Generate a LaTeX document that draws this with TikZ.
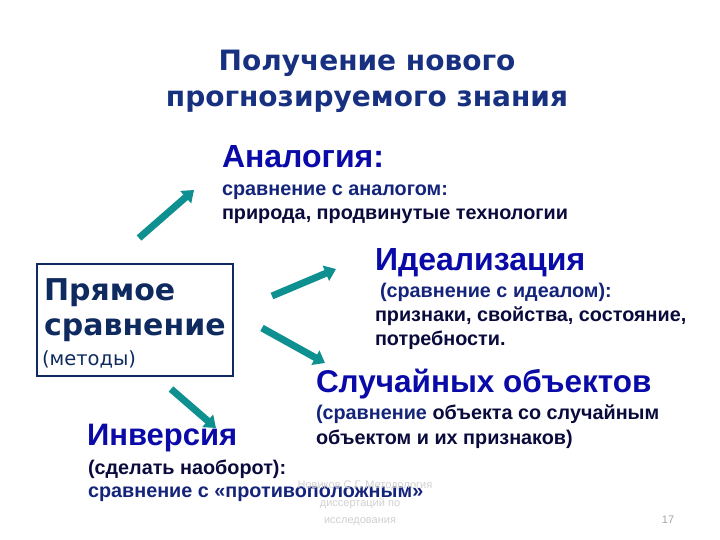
\documentclass[tikz,border=0pt]{standalone}
\usepackage{fontspec}
\setmainfont{Liberation Sans}
\newfontfamily\vfont{DejaVu Sans}
\usetikzlibrary{arrows.meta}
\definecolor{titlec}{HTML}{17307F}
\definecolor{headc}{HTML}{0A0AA8}
\definecolor{subc}{HTML}{14247A}
\definecolor{darkc}{HTML}{0A0A3C}
\definecolor{boxc}{HTML}{0F2A5F}
\definecolor{teal}{HTML}{0E9090}
\tikzset{
  txt/.style={anchor=base west, inner sep=0pt, outer sep=0pt},
  head/.style={txt, text=headc, font=\fontsize{32}{36}\selectfont\bfseries},
  sub/.style={txt, text=darkc, font=\fontsize{19.8}{23}\selectfont\bfseries},
  arr/.style={draw=teal, line width=7pt, -{Triangle[length=11pt,width=16pt]}},
  wm/.style={anchor=base, inner sep=0pt, text=black!18, font=\fontsize{11}{13}\selectfont},
  ttl/.style={anchor=base, inner sep=0pt, text=titlec, font=\fontsize{28}{32}\selectfont\vfont\bfseries},
}
\begin{document}
\begin{tikzpicture}[x=1pt,y=-1pt]
\useasboundingbox (0,0) rectangle (720,540);
\fill[white] (0,0) rectangle (720,540);
% title
\node[ttl] (t1) at (367,71) {Получение нового};
\node[ttl] (t2) at (367,107) {прогнозируемого знания};
% box
\draw[boxc, line width=2pt] (37,264) rectangle (233,376);
\node[txt, text=boxc, font=\fontsize{30}{34}\selectfont\vfont\bfseries] (b1) at (44,300) {Прямое};
\node[txt, text=boxc, font=\fontsize{30}{34}\selectfont\vfont\bfseries] (b2) at (44,335) {сравнение};
\node[txt, text=boxc, font=\fontsize{19.5}{22}\selectfont\vfont] (b3) at (42,365) {(методы)};
% analogy
\node[head] (a1) at (222,168) {Аналогия:};
\node[sub, text=subc] (a2) at (222,196) {сравнение с аналогом:};
\node[sub] (a3) at (222,219) {природа, продвинутые технологии};
% idealization
\node[head] (i1) at (375,270) {Идеализация};
\node[sub, text=subc] (i2) at (380,297) {(сравнение с идеалом):};
\node[sub] (i3) at (375,321) {признаки, свойства, состояние,};
\node[sub] (i4) at (375,345) {потребности.};
% random objects
\node[head, font=\fontsize{31.5}{35}\selectfont\bfseries] (r1) at (316,392) {Случайных объектов};
\node[sub] (r2) at (316,419) {{\color{subc}(сравнение} объекта со случайным};
\node[sub] (r3) at (316,444) {объектом и их признаков)};
% inversion
\node[head, font=\fontsize{31}{35}\selectfont\bfseries] (v1) at (87,445) {Инверсия};
\node[sub] (v2) at (88,474) {(сделать наоборот):};
\node[sub, text=subc] (v3) at (88,497) {сравнение с «противоположным»};
% watermark
\node[wm] (w1) at (365,488) {Новиков С.Г. Методология};
\node[wm] (w2) at (360,506) {диссертаций по};
\node[wm] (w3) at (360,523) {исследования};
\node[anchor=base, inner sep=0pt, text=black!35, font=\fontsize{11}{13}\selectfont] (pg) at (668,523) {17};
% arrows
\coordinate (s1) at (139,238); \coordinate (e1) at (194,190);
\coordinate (s2) at (272,296); \coordinate (e2) at (336,269);
\coordinate (s3) at (262,328); \coordinate (e3) at (325,363);
\coordinate (s4) at (171,389); \coordinate (e4) at (216,428);
\draw[arr] (s1) -- (e1);
\draw[arr] (s2) -- (e2);
\draw[arr] (s3) -- (e3);
\draw[arr] (s4) -- (e4);
\end{tikzpicture}
\end{document}
